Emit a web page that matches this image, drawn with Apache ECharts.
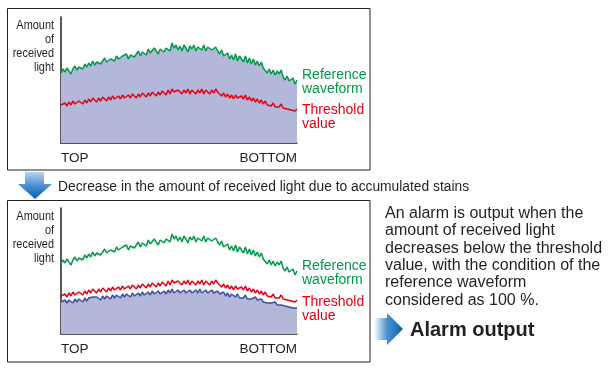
<!DOCTYPE html>
<html><head><meta charset="utf-8">
<script src="https://cdn.jsdelivr.net/npm/echarts@6/dist/echarts.min.js"></script>
<style>html,body{margin:0;padding:0;background:#fff}#c{width:610px;height:370px}</style>
</head><body><div id="c"></div>
<script>
// Position along the sensor (TOP ... BOTTOM), 120 samples
const positions = Array.from({length:120},(_,i)=>i);
// Reference waveform (amount of received light, same in both panels)
const referenceWave = [
70,74,71,75,72,69,74,77,73,76,78,74,79,76,80,77,82,78,81,83,
79,82,85,81,80,84,86,82,87,84,83,87,85,89,84,88,90,86,89,92,
87,91,93,88,94,90,91,95,92,89,94,96,91,95,97,92,100,95,98,93,
97,92,98,95,91,97,94,98,92,96,97,93,98,92,96,97,93,91,96,92,
89,93,87,85,90,84,88,83,89,82,87,85,81,87,80,85,79,84,78,82,
77,81,75,73,70,74,69,73,68,72,69,73,66,63,67,62,60,65,59,63];
// Threshold value
const thresholdWave = [
38,36,40,37,41,38,42,39,38,42,43,39,43,40,44,41,45,43,41,45,
42,46,44,42,46,43,47,44,43,47,44,48,45,44,48,45,49,47,45,49,
46,50,48,46,50,47,51,49,47,51,48,52,50,48,53,49,54,51,49,53,
51,49,53,50,54,49,53,51,49,53,50,54,49,53,51,49,53,50,54,51,
49,47,50,46,49,45,48,44,48,45,43,47,44,48,43,46,42,45,41,44,
40,43,39,42,38,40,37,40,36,38,36,39,35,37,34,36,33,35,32,34];
// Received light after accumulated stains
const stainedWave = [
32,30,34,31,34,32,31,35,32,35,33,32,36,33,36,34,37,35,37,35,
34,38,35,38,36,35,39,36,39,37,36,40,37,40,38,37,41,38,37,41,
38,42,39,38,42,39,43,40,39,43,40,39,43,40,44,41,45,41,40,44,
41,40,44,41,40,44,41,40,44,41,45,41,40,44,41,40,44,41,40,43,
40,39,42,38,41,37,40,38,37,40,36,38,36,39,35,37,35,34,37,34,
33,35,32,34,31,33,31,30,32,29,31,29,31,28,30,27,29,26,28,26];
const yLabel = 'Amount\nof\nreceived\nlight';
const xStart = 'TOP', xEnd = 'BOTTOM';
const refLabel = 'Reference\nwaveform', thrLabel = 'Threshold\nvalue';
const arrowText = 'Decrease in the amount of received light due to accumulated stains';
const noteText = 'An alarm is output when the\namount of received light\ndecreases below the threshold\nvalue, with the condition of the\nreference waveform\nconsidered as 100 %.';
const alarmText = 'Alarm output';

const FONT = "'Liberation Sans', Arial, sans-serif";
const GREEN = '#009a48', RED = '#e60012', BLUE = '#3d4f9f', FILL = '#b3b7d9', INK = '#231f20';

const chart = echarts.init(document.getElementById('c'), null, {renderer:'canvas'});
const axisLine = {show:true, lineStyle:{color:INK, width:1.5}};
function xAx(gi){return {type:'category', gridIndex:gi, data:positions, boundaryGap:false,
  axisLine:axisLine, axisTick:{show:false}, axisLabel:{show:false}, splitLine:{show:false}};}
function yAx(gi){return {type:'value', gridIndex:gi, min:0, max:126,
  axisLine:axisLine, axisTick:{show:false}, axisLabel:{show:false}, splitLine:{show:false}};}
function line(gi, data, color, area, z){
  return {type:'line', xAxisIndex:gi, yAxisIndex:gi, data:data, symbol:'none', smooth:false,
    lineStyle:{color:color, width:1.5}, itemStyle:{color:color}, z:z,
    areaStyle: area ? {color:FILL, opacity:1} : undefined, silent:true, animation:false};
}
function txt(x,y,text,fill,size,opts){
  return {type:'text', silent:true, style:Object.assign({x:x,y:y,text:text,fill:fill,
    fontSize:size, fontFamily:FONT, align:'left', verticalAlign:'middle'}, opts||{})};
}
function panelTexts(dy, refY, thrY){
  return [
    {type:'text', silent:true, x:54, y:18+dy, scaleX:0.84,
      style:{x:0, y:0, text:yLabel, fill:INK, fontSize:13, fontFamily:FONT, align:'right', verticalAlign:'top', lineHeight:14}},
    txt(61, 158+dy, xStart, INK, 13.5),
    txt(297, 158+dy, xEnd, INK, 13.5, {align:'right'}),
    txt(302, refY, refLabel, GREEN, 14, {verticalAlign:'top', lineHeight:14}),
    txt(302, thrY, thrLabel, RED, 14, {verticalAlign:'top', lineHeight:14})
  ];
}
const graphics = [
  {type:'rect', silent:true, shape:{x:7.5,y:8.5,width:362.5,height:161.5}, style:{fill:'none', stroke:INK, lineWidth:1}},
  {type:'rect', silent:true, shape:{x:7.5,y:200.5,width:362.5,height:161.5}, style:{fill:'none', stroke:INK, lineWidth:1}},
  {type:'polygon', silent:true, shape:{points:[[25,172],[44,172],[44,184],[52,184],[35,199],[18,184],[25,184]]},
    style:{fill:new echarts.graphic.LinearGradient(0,0,0,1,[{offset:0,color:'#b9d3ef'},{offset:0.5,color:'#4d8fd1'},{offset:1,color:'#0062b0'}])}},
  {type:'polygon', silent:true, shape:{points:[[374,318],[387,318],[387,313],[403,329],[387,345],[387,340],[374,340]]},
    style:{fill:new echarts.graphic.LinearGradient(0,0,1,0,[{offset:0,color:'#ffffff'},{offset:0.45,color:'#4f8fd0'},{offset:1,color:'#0062b0'}])}},
  txt(58, 187, arrowText, INK, 13.8),
  txt(385, 205, noteText, INK, 16, {verticalAlign:'top', lineHeight:17.3}),
  txt(410, 330, alarmText, INK, 20, {fontWeight:'bold'})
].concat(panelTexts(0, 68, 103)).concat(panelTexts(191, 259, 295));

chart.setOption({
  animation:false,
  grid:[{left:61, top:17, width:236, height:126}, {left:61, top:208, width:236, height:126}],
  xAxis:[xAx(0), xAx(1)],
  yAxis:[yAx(0), yAx(1)],
  series:[
    line(0, referenceWave, GREEN, true, 2),
    line(0, thresholdWave, RED, false, 3),
    line(1, stainedWave, BLUE, true, 2),
    line(1, thresholdWave, RED, false, 3),
    line(1, referenceWave, GREEN, false, 3)
  ],
  graphic: graphics
});
</script></body></html>
